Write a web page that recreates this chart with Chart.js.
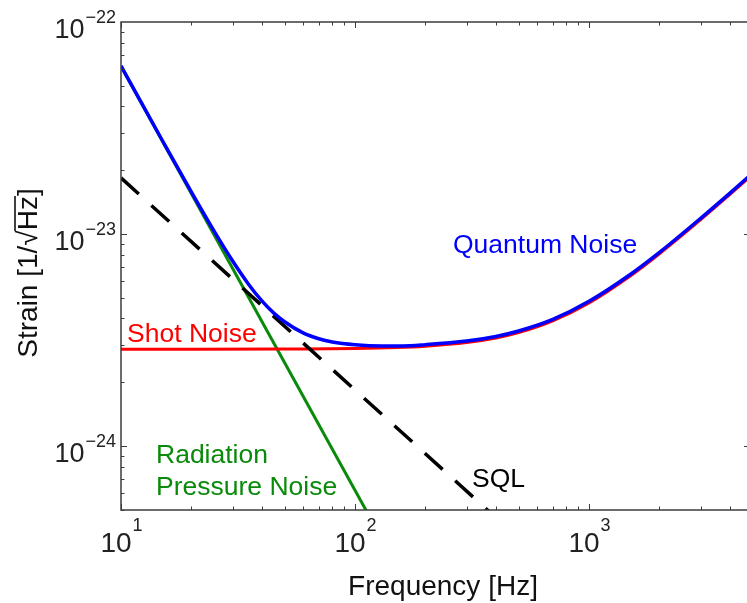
<!DOCTYPE html>
<html>
<head>
<meta charset="utf-8">
<script src="https://cdn.jsdelivr.net/npm/chart.js@4"></script>
<style>
  body { margin: 0; background: #fff; }
  canvas { display: block; }
</style>
</head>
<body>
<canvas id="noiseChart" width="747" height="603"></canvas>
<script>
// values (Hz, strain per sqrt(Hz))
const shotFreq = [10, 20, 50, 100, 150, 200, 300, 400, 500, 700, 1000, 1500, 2000, 3000, 4000, 5000];
const shotNoise = [2.86e-24, 2.86e-24, 2.87e-24, 2.885e-24, 2.915e-24, 2.96e-24, 3.08e-24, 3.235e-24, 3.43e-24, 3.9e-24, 4.74e-24, 6.35e-24, 8.08e-24, 1.169e-23, 1.538e-23, 1.91e-23];

const quantumFreq = [10, 12, 15, 20, 25, 30, 35, 40, 45, 50, 60, 70, 80, 100, 130, 160, 200, 300, 400, 500, 700, 1000, 1500, 2000, 3000, 4000, 5000];
const quantumNoise = [6.21e-23, 4.315e-23, 2.77e-23, 1.576e-23, 1.032e-23, 7.46e-24, 5.82e-24, 4.84e-24, 4.24e-24, 3.86e-24, 3.42e-24, 3.21e-24, 3.1e-24, 3.01e-24, 2.97e-24, 2.97e-24, 3.01e-24, 3.13e-24, 3.29e-24, 3.49e-24, 3.96e-24, 4.82e-24, 6.45e-24, 8.2e-24, 1.187e-23, 1.56e-23, 1.94e-23];

const radFreq = [10, 120];
const radNoise = [6.2e-23, 4.3e-25];

const sqlFreq = [10, 400];
const sqlNoise = [1.84e-23, 4.6e-25];

const xTicks = [10, 100, 1000];
const xTickExp = ['1', '2', '3'];
const yTicks = [1e-24, 1e-23, 1e-22];
const yTickExp = ['\u221224', '\u221223', '\u221222'];

const FONT = '"Liberation Sans", Arial, sans-serif';

function points(xs, ys) {
  return xs.map((f, i) => ({ x: f, y: ys[i] }));
}

// frame, inward ticks, tick labels, titles and curve labels
const decorPlugin = {
  id: 'decor',
  afterDatasetsDraw(chart) {
    const ctx = chart.ctx;
    const a = chart.chartArea;
    const xs = chart.scales.x, ys = chart.scales.y;
    ctx.save();
    ctx.strokeStyle = '#3c3c3c';
    ctx.lineWidth = 1.5;
    ctx.beginPath();
    ctx.moveTo(a.right, a.top);
    ctx.lineTo(a.left, a.top);
    ctx.lineTo(a.left, a.bottom);
    ctx.lineTo(a.right, a.bottom);
    ctx.stroke();

    ctx.lineWidth = 1;
    ctx.beginPath();
    for (let d = 1; d <= 3; d++) {
      for (let m = 1; m <= 9; m++) {
        const v = m * Math.pow(10, d);
        if (v < xs.min || v > xs.max) continue;
        const px = Math.round(xs.getPixelForValue(v)) + 0.5;
        const len = m === 1 ? 6 : 3.5;
        ctx.moveTo(px, a.bottom); ctx.lineTo(px, a.bottom - len);
        ctx.moveTo(px, a.top); ctx.lineTo(px, a.top + len);
      }
    }
    for (let d = -25; d <= -23; d++) {
      for (let m = 1; m <= 9; m++) {
        const v = m * Math.pow(10, d);
        if (v < ys.min * 0.999 || v > ys.max * 1.001) continue;
        const py = Math.round(ys.getPixelForValue(v)) + 0.5;
        const len = m === 1 ? 6 : 3.5;
        ctx.moveTo(a.left, py); ctx.lineTo(a.left + len, py);
        if (m === 1) { ctx.moveTo(a.right, py); ctx.lineTo(a.right - 3, py); }
      }
    }
    ctx.stroke();
    ctx.restore();
  },
  afterDraw(chart) {
    const ctx = chart.ctx;
    const a = chart.chartArea;
    const xs = chart.scales.x, ys = chart.scales.y;
    ctx.save();
    ctx.fillStyle = '#222';
    ctx.textBaseline = 'alphabetic';

    // y tick labels: 10 with superscript exponent
    yTicks.forEach((v, i) => {
      const py = ys.getPixelForValue(v);
      ctx.font = '18px ' + FONT;
      ctx.textAlign = 'right';
      const expRight = a.left - 5;
      ctx.fillText(yTickExp[i], expRight, py + 1);
      const ew = ctx.measureText(yTickExp[i]).width;
      ctx.font = '27px ' + FONT;
      ctx.fillText('10', expRight - ew - 1, py + 16);
    });

    // x tick labels
    xTicks.forEach((v, i) => {
      const px = xs.getPixelForValue(v);
      ctx.font = '28px ' + FONT;
      const bw = ctx.measureText('10').width;
      ctx.font = '18px ' + FONT;
      const ew = ctx.measureText(xTickExp[i]).width;
      const left = px - (bw + ew) / 2;
      ctx.textAlign = 'left';
      ctx.font = '28px ' + FONT;
      ctx.fillText('10', left, a.bottom + 42);
      ctx.font = '18px ' + FONT;
      ctx.fillText(xTickExp[i], left + bw + 1, a.bottom + 21);
    });

    // axis titles
    ctx.font = '28px ' + FONT;
    ctx.textAlign = 'center';
    ctx.fillStyle = '#111';
    ctx.fillText('Frequency [Hz]', 443, 595);

    ctx.save();
    ctx.translate(37, 273);
    ctx.rotate(-Math.PI / 2);
    ctx.font = '28px ' + FONT;
    ctx.textAlign = 'left';
    const p1 = 'Strain [1/\u221A', p2 = 'Hz', p3 = ']';
    const w1 = ctx.measureText(p1).width, w2 = ctx.measureText(p2).width, w3 = ctx.measureText(p3).width;
    const x0 = -(w1 + w2 + w3) / 2;
    ctx.fillText(p1, x0, 0);
    ctx.fillText(p2, x0 + w1, 0);
    ctx.fillText(p3, x0 + w1 + w2, 0);
    ctx.strokeStyle = '#111';
    ctx.lineWidth = 1.6;
    ctx.beginPath();
    ctx.moveTo(x0 + w1 - 1, -22);
    ctx.lineTo(x0 + w1 + w2, -22);
    ctx.stroke();
    ctx.restore();

    // curve labels
    ctx.textAlign = 'left';
    ctx.font = '26.5px ' + FONT;
    ctx.fillStyle = '#0000ff';
    ctx.fillText('Quantum Noise', 453, 253);
    ctx.fillStyle = '#ff0000';
    ctx.fillText('Shot Noise', 127, 342);
    ctx.fillStyle = '#0a8a0a';
    ctx.fillText('Radiation', 156, 463);
    ctx.fillText('Pressure Noise', 156, 495);
    ctx.fillStyle = '#000';
    ctx.fillText('SQL', 472, 487);
    ctx.restore();
  }
};

const ctx = document.getElementById('noiseChart').getContext('2d');

new Chart(ctx, {
  type: 'line',
  data: {
    datasets: [
      {
        label: 'Quantum Noise',
        data: points(quantumFreq, quantumNoise),
        borderColor: '#0000ff',
        borderWidth: 3.5,
        cubicInterpolationMode: 'monotone',
        pointRadius: 0
      },
      {
        label: 'SQL',
        data: points(sqlFreq, sqlNoise),
        borderColor: '#000000',
        borderWidth: 3.5,
        borderDash: [24, 17],
        pointRadius: 0
      },
      {
        label: 'Shot Noise',
        data: points(shotFreq, shotNoise),
        borderColor: '#ff0000',
        borderWidth: 3,
        cubicInterpolationMode: 'monotone',
        pointRadius: 0
      },
      {
        label: 'Radiation Pressure Noise',
        data: points(radFreq, radNoise),
        borderColor: '#0a8a0a',
        borderWidth: 3,
        pointRadius: 0
      }
    ]
  },
  options: {
    responsive: false,
    animation: false,
    devicePixelRatio: 1,
    layout: { padding: { left: 121, right: 0, top: 22, bottom: 93 } },
    plugins: {
      legend: { display: false },
      tooltip: { enabled: false }
    },
    scales: {
      x: { type: 'logarithmic', min: 10, max: 4732, display: false },
      y: { type: 'logarithmic', min: 5.05e-25, max: 1e-22, display: false }
    }
  },
  plugins: [decorPlugin]
});
</script>
</body>
</html>
